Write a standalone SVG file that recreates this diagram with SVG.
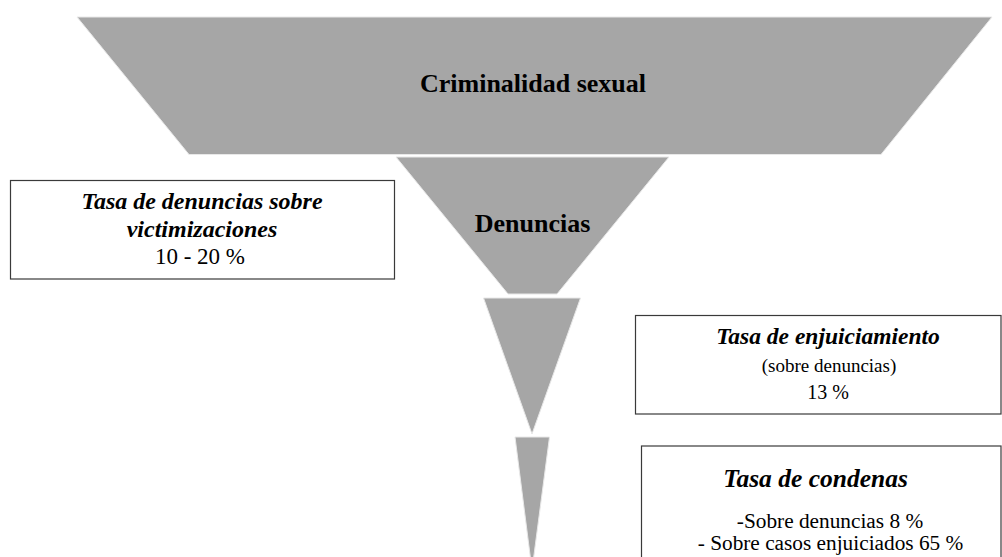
<svg xmlns="http://www.w3.org/2000/svg" width="1002" height="557" viewBox="0 0 1002 557">
<style>
.shape{fill:#a6a6a6;stroke:#e8e8e8;stroke-width:1}
.box{fill:#ffffff;stroke:#3a3a3a;stroke-width:1.2}
text{font-family:"Liberation Serif","Times New Roman",serif;fill:#000000;text-anchor:middle}
.lbl{font-weight:bold}
.ttl{font-weight:bold;font-style:italic}
</style>
<rect x="0" y="0" width="1002" height="557" fill="#ffffff"/>
<g id="level-criminalidad">
<polygon class="shape" points="77,17 992,17 881,154.5 189,154.5"/>
<text class="lbl" x="533" y="92" font-size="26">Criminalidad sexual</text>
</g>
<g id="level-denuncias">
<polygon class="shape" points="396,157 669,157 557,294 508,294"/>
<text class="lbl" x="532.5" y="232" font-size="26">Denuncias</text>
</g>
<g id="level-enjuiciamiento">
<polygon class="shape" points="483.5,298 580.5,298 532,434"/>
</g>
<g id="level-condenas">
<polygon class="shape" points="515,437 549.5,437 532,570"/>
</g>
<g id="box-tasa-denuncias">
<rect class="box" x="10.5" y="180.5" width="384" height="98.5"/>
<text class="ttl" x="202" y="209" font-size="24">Tasa de denuncias sobre</text>
<text class="ttl" x="202" y="237" font-size="24">victimizaciones</text>
<text x="200" y="264" font-size="23">10 - 20 %</text>
</g>
<g id="box-tasa-enjuiciamiento">
<rect class="box" x="635.5" y="315.5" width="365.5" height="98.5"/>
<text class="ttl" x="828" y="344" font-size="23.5">Tasa de enjuiciamiento</text>
<text x="829" y="372" font-size="19">(sobre denuncias)</text>
<text x="828" y="399" font-size="20">13 %</text>
</g>
<g id="box-tasa-condenas">
<rect class="box" x="641.5" y="446" width="359.5" height="130"/>
<text class="ttl" x="815.5" y="487" font-size="25.5">Tasa de condenas</text>
<text x="830" y="528" font-size="21.3">-Sobre denuncias 8 %</text>
<text x="830.5" y="550" font-size="21.3">- Sobre casos enjuiciados 65 %</text>
</g>
<g id="connectors"></g>
</svg>
